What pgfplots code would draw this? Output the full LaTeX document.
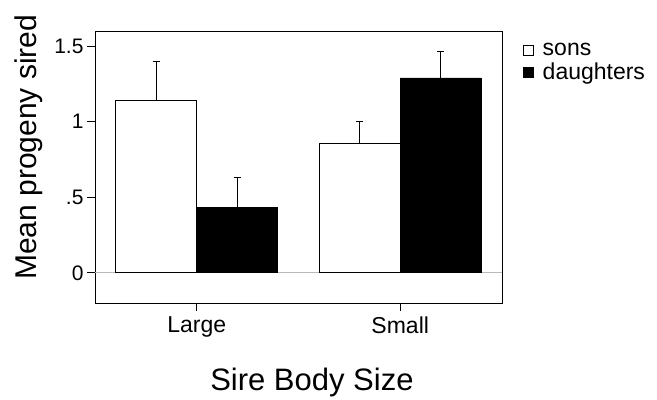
\documentclass[border=0pt]{standalone}
\usepackage{pgfplots}
\pgfplotsset{compat=1.18}
\usepackage{fontspec}
\setmainfont{Liberation Sans}
\begin{document}
\begin{tikzpicture}
\begin{axis}[
  name=ax,
  scale only axis,
  width=407pt, height=272pt,
  xmin=-0.5, xmax=1.5,
  ymin=-0.2, ymax=1.6,
  ybar, bar width=81pt,
  xtick={0,1}, xticklabels={Large,Small},
  ytick={0,0.5,1,1.5}, yticklabels={0,.5,1,1.5},
  tick align=outside, tick pos=left,
  major tick length=8pt,
  axis line style={line width=0.8pt},
  every tick/.style={black,line width=0.8pt},
  extra y ticks={0}, extra y tick labels={},
  extra y tick style={grid=major, major grid style={gray!55,line width=0.7pt}, major tick length=0pt},
  /pgf/number format/assume math mode=true,
  xticklabel style={font=\fontsize{23}{23}\selectfont, yshift=-2pt},
  yticklabel style={font=\fontsize{21}{21}\selectfont},
  xlabel={Sire Body Size},
  xlabel style={font=\fontsize{31}{31}\selectfont, at={(axis description cs:0.533,-0.32)}, anchor=base},
  ylabel={Mean progeny sired},
  ylabel style={font=\fontsize{30}{30}\selectfont, at={(axis description cs:-0.1278,0.572)}, anchor=south, inner sep=0pt},
  legend style={at={(axis description cs:1.052,0.886)}, anchor=west, draw=none, fill=none,
    font=\fontsize{23}{23}\selectfont, inner sep=0pt, row sep=2pt,
    cells={anchor=west}},
  legend cell align=left,
  error bars/y dir=plus, error bars/y explicit,
  error bars/error mark=-,
  error bars/error bar style={black,line width=0.8pt},
  error bars/error mark options={black,line width=0.8pt,mark size=3.5pt,rotate=90},
]
\addlegendimage{legend image code/.code={\draw[black,fill=white,line width=0.7pt] (0pt,-5pt) rectangle (10pt,5pt); \path[draw=none,fill=none] (0pt,0pt) -- (17pt,0pt);}}
\addlegendentry{sons}
\addlegendimage{legend image code/.code={\draw[black,fill=black,line width=0.7pt] (0pt,-5pt) rectangle (10pt,5pt); \path[draw=none,fill=none] (0pt,0pt) -- (17pt,0pt);}}
\addlegendentry{daughters}
\addplot[draw=black, fill=white, line width=0.8pt, bar shift=-40.5pt, forget plot] coordinates {
  (0,1.143) +- (0,0.257)
  (1,0.857) +- (0,0.143)
};
\addplot[draw=black, fill=black, line width=0.8pt, bar shift=40.5pt, forget plot] coordinates {
  (0,0.432) +- (0,0.202)
  (1,1.289) +- (0,0.176)
};
\end{axis}
\path (ax.south west) ++(-95pt,-95pt) rectangle ++(657pt,398pt);
\end{tikzpicture}
\end{document}
